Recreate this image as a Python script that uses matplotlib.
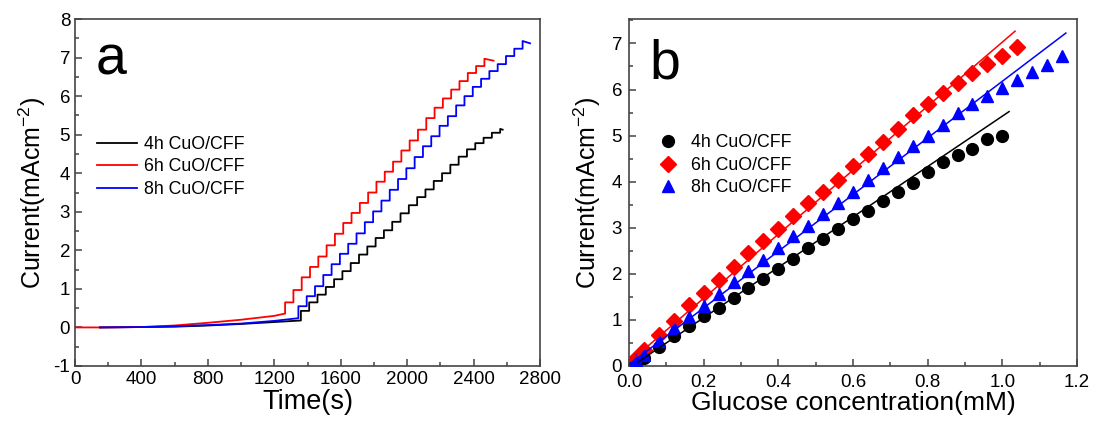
import numpy as np
import matplotlib
matplotlib.use("Agg")
import matplotlib.pyplot as plt
from matplotlib.ticker import MultipleLocator, FormatStrFormatter

plt.rcParams['font.family'] = ['Liberation Sans', 'DejaVu Sans']
plt.rcParams['mathtext.fontset'] = 'custom'
plt.rcParams['mathtext.rm'] = 'Liberation Sans'
plt.rcParams['mathtext.it'] = 'Liberation Sans'
plt.rcParams['axes.unicode_minus'] = False

labels = ["4h CuO/CFF", "6h CuO/CFF", "8h CuO/CFF"]
colors = ["black", "red", "blue"]

# panel a: amperometric response (baseline drift, then one step per glucose addition)
base_t_4h = [150, 400, 600, 800, 1000, 1200, 1360]
base_i_4h = [0.0, 0.01, 0.02, 0.05, 0.09, 0.14, 0.18]
step_t_4h = [1360, 1410, 1460, 1510, 1560, 1610, 1660, 1710, 1760, 1810, 1860, 1910, 1960,
             2010, 2060, 2110, 2160, 2210, 2260, 2310, 2360, 2410, 2460, 2510, 2560]
step_i_4h = [0.43, 0.65, 0.85, 1.05, 1.25, 1.46, 1.67, 1.89, 2.10, 2.32, 2.52, 2.74, 2.96,
             3.17, 3.38, 3.58, 3.80, 4.00, 4.22, 4.43, 4.62, 4.78, 4.92, 5.05, 5.15]
end_t_4h, end_i_4h = 2575, 5.13

base_t_6h = [0, 150, 400, 600, 800, 1000, 1200, 1265]
base_i_6h = [0.0, 0.0, 0.01, 0.05, 0.12, 0.20, 0.30, 0.36]
step_t_6h = [1265, 1315, 1365, 1415, 1465, 1515, 1565, 1615, 1665, 1715, 1765, 1815, 1865,
             1915, 1965, 2015, 2065, 2115, 2165, 2215, 2265, 2315, 2365, 2415, 2465]
step_i_6h = [0.65, 0.97, 1.30, 1.57, 1.84, 2.13, 2.43, 2.71, 2.97, 3.23, 3.50, 3.78, 4.04,
             4.30, 4.59, 4.85, 5.13, 5.43, 5.70, 5.94, 6.17, 6.39, 6.60, 6.78, 6.97]
end_t_6h, end_i_6h = 2520, 6.92

base_t_8h = [150, 400, 600, 800, 1000, 1200, 1345]
base_i_8h = [0.0, 0.01, 0.03, 0.06, 0.10, 0.17, 0.24]
step_t_8h = [1345, 1395, 1445, 1495, 1545, 1595, 1645, 1695, 1745, 1795, 1845, 1895, 1945, 1995,
             2045, 2095, 2145, 2195, 2245, 2295, 2345, 2395, 2445, 2495, 2545, 2595, 2645, 2695]
step_i_8h = [0.55, 0.81, 1.07, 1.36, 1.64, 1.91, 2.17, 2.44, 2.73, 3.01, 3.29, 3.57, 3.85, 4.13,
             4.42, 4.70, 4.96, 5.23, 5.48, 5.76, 6.00, 6.24, 6.45, 6.65, 6.83, 7.04, 7.23, 7.43]
end_t_8h, end_i_8h = 2740, 7.37

# panel b: calibration points
conc_4h = [0.02, 0.04, 0.08, 0.12, 0.16, 0.20, 0.24, 0.28, 0.32, 0.36, 0.40, 0.44, 0.48, 0.52,
           0.56, 0.60, 0.64, 0.68, 0.72, 0.76, 0.80, 0.84, 0.88, 0.92, 0.96, 1.00]
cur_4h = [0.08, 0.17, 0.42, 0.65, 0.86, 1.08, 1.25, 1.47, 1.70, 1.88, 2.10, 2.33, 2.55, 2.75,
          2.97, 3.20, 3.37, 3.57, 3.78, 3.98, 4.20, 4.43, 4.58, 4.72, 4.92, 5.00]
conc_6h = [0.02, 0.04, 0.08, 0.12, 0.16, 0.20, 0.24, 0.28, 0.32, 0.36, 0.40, 0.44, 0.48, 0.52,
           0.56, 0.60, 0.64, 0.68, 0.72, 0.76, 0.80, 0.84, 0.88, 0.92, 0.96, 1.00, 1.04]
cur_6h = [0.18, 0.35, 0.67, 0.98, 1.32, 1.58, 1.86, 2.15, 2.45, 2.72, 2.98, 3.26, 3.53, 3.78,
          4.04, 4.34, 4.60, 4.87, 5.15, 5.45, 5.68, 5.92, 6.15, 6.36, 6.55, 6.73, 6.93]
conc_8h = [0.02, 0.04, 0.08, 0.12, 0.16, 0.20, 0.24, 0.28, 0.32, 0.36, 0.40, 0.44, 0.48, 0.52,
           0.56, 0.60, 0.64, 0.68, 0.72, 0.76, 0.80, 0.84, 0.88, 0.92, 0.96, 1.00, 1.04, 1.08,
           1.12, 1.16]
cur_8h = [0.12, 0.24, 0.55, 0.82, 1.06, 1.31, 1.56, 1.83, 2.06, 2.31, 2.56, 2.82, 3.04, 3.29,
          3.54, 3.78, 4.04, 4.30, 4.54, 4.78, 5.00, 5.23, 5.50, 5.68, 5.86, 6.03, 6.20, 6.37,
          6.54, 6.72]

# linear fits (slope, intercept, x range)
fit_slope = [5.47, 6.95, 6.15]
fit_icpt = [-0.047, 0.08, 0.03]
fit_x0 = [0.025, 0.0, 0.0]
fit_x1 = [1.018, 1.034, 1.17]


def staircase(bt, bi, st, si, te, ie):
    xs, ys = list(bt), list(bi)
    for t, v in zip(st, si):
        xs += [t, t]
        ys += [ys[-1], v]
    xs.append(te)
    ys.append(ie)
    return xs, ys


def style_axes(ax):
    for s in ax.spines.values():
        s.set_color("#444444")
        s.set_linewidth(1.2)
    ax.tick_params(which="both", direction="in", top=False, right=False,
                   labelsize=13.5, color="#444444", width=1.1)
    ax.tick_params(which="major", length=5)
    ax.tick_params(which="minor", length=3)


fig = plt.figure(figsize=(11.13, 4.23), dpi=100)
ax1 = fig.add_axes([0.0674, 0.1348, 0.4178, 0.8202])
ax2 = fig.add_axes([0.5651, 0.1348, 0.4026, 0.8202])

curves = [
    staircase(base_t_4h, base_i_4h, step_t_4h, step_i_4h, end_t_4h, end_i_4h),
    staircase(base_t_6h, base_i_6h, step_t_6h, step_i_6h, end_t_6h, end_i_6h),
    staircase(base_t_8h, base_i_8h, step_t_8h, step_i_8h, end_t_8h, end_i_8h),
]
for (x, y), c, lab in zip(curves, colors, labels):
    ax1.plot(x, y, color=c, lw=1.3, label=lab)

ax1.set_xlim(0, 2800)
ax1.set_ylim(-1, 8)
ax1.xaxis.set_major_locator(MultipleLocator(400))
ax1.xaxis.set_minor_locator(MultipleLocator(200))
ax1.yaxis.set_major_locator(MultipleLocator(1))
ax1.yaxis.set_minor_locator(MultipleLocator(0.5))
style_axes(ax1)
ax1.set_xlabel("Time(s)", fontsize=19.5, labelpad=1)
ax1.set_ylabel("Current(mAcm$^{-2}$)", fontsize=18, labelpad=4)
ax1.text(0.045, 0.84, "a", transform=ax1.transAxes, fontsize=40)
ax1.legend(loc="upper left", bbox_to_anchor=(0.032, 0.683), borderaxespad=0, frameon=False,
           fontsize=12.8, handlelength=2.25, handletextpad=0.4, labelspacing=0.3)

markers = ["o", "D", "^"]
msizes = [8.5, 8, 9]
for conc, cur, c, m, ms, lab in zip([conc_4h, conc_6h, conc_8h], [cur_4h, cur_6h, cur_8h],
                                    colors, markers, msizes, labels):
    ax2.plot(conc, cur, ls="none", marker=m, ms=ms, color=c, label=lab, zorder=3)
for k, c in enumerate(colors):
    xx = np.array([fit_x0[k], fit_x1[k]])
    ax2.plot(xx, fit_slope[k] * xx + fit_icpt[k], color=c, lw=1.1, zorder=4)

ax2.set_xlim(0, 1.2)
ax2.set_ylim(0, 7.53)
ax2.xaxis.set_major_locator(MultipleLocator(0.2))
ax2.xaxis.set_minor_locator(MultipleLocator(0.1))
ax2.yaxis.set_major_locator(MultipleLocator(1))
ax2.yaxis.set_minor_locator(MultipleLocator(0.5))
ax2.xaxis.set_major_formatter(FormatStrFormatter("%.1f"))
style_axes(ax2)
ax2.tick_params(axis="x", pad=6)
ax2.tick_params(axis="y", pad=5)
ax2.set_xlabel("Glucose concentration(mM)", fontsize=19, labelpad=0)
ax2.set_ylabel("Current(mAcm$^{-2}$)", fontsize=18, labelpad=6)
ax2.text(0.045, 0.83, "b", transform=ax2.transAxes, fontsize=40)
ax2.legend(loc="upper left", bbox_to_anchor=(0.031, 0.688), borderaxespad=0, frameon=False,
           fontsize=12.8, handletextpad=0.3, labelspacing=0.3)

fig.savefig("out.png", dpi=100)
